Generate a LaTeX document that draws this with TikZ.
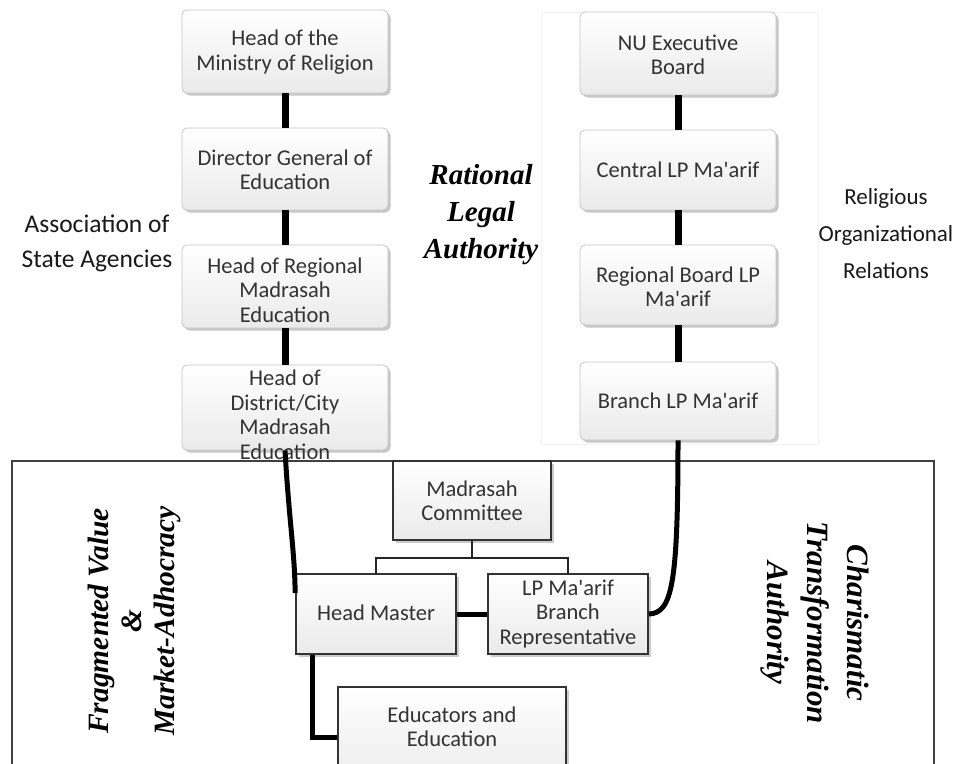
\documentclass[tikz,border=0pt]{standalone}
\usepackage{fontspec}
\setmainfont{Carlito}
\newfontfamily\serifbi{Liberation Serif}
\usetikzlibrary{shadows}
\newcommand{\sq}{\textquotesingle}
\begin{document}
\begin{tikzpicture}[x=1pt,y=-1pt,
  topbox/.style={rounded corners=5pt, draw=gray!45, line width=0.8pt, top color=white, bottom color=gray!16,
    drop shadow={shadow xshift=2.5pt, shadow yshift=-2.5pt, opacity=0.55, fill=gray!80}, inner sep=0pt},
  lowbox/.style={draw=black!80, line width=1.8pt, top color=white, bottom color=gray!16,
    drop shadow={shadow xshift=2.5pt, shadow yshift=-2.5pt, opacity=0.5, fill=gray!80}, inner sep=0pt},
  boxtext/.style={align=center, text=black!80, font=\fontsize{22.5}{24.5}\selectfont, inner sep=0pt},
  sidetext/.style={align=center, text=black!90, font=\fontsize{23}{37}\selectfont, inner sep=0pt},
  authtext/.style={align=center, font=\serifbi\bfseries\itshape\fontsize{29}{37}\selectfont, inner sep=0pt},
  thick link/.style={line width=7pt, black},
  thin link/.style={line width=1.4pt, black!85},
  mid link/.style={line width=5pt, black}]
\useasboundingbox (0,0) rectangle (958,763);
\clip (0,0) rectangle (958,763);
\fill[white] (0,0) rectangle (958,763);
% faint frame round the religious column
\draw[gray!10, line width=0.8pt] (541,12) rectangle (818,444);
% big lower frame
\draw[black!75, line width=1.5pt] (12,461) rectangle (934,800);
% left column
\node[topbox, minimum width=206pt, minimum height=83pt] (d1) at (285,51.5) {};
\node[topbox, minimum width=206pt, minimum height=82pt] (d2) at (285,169) {};
\node[topbox, minimum width=206pt, minimum height=83pt] (d3) at (285,286.5) {};
\node[topbox, minimum width=206pt, minimum height=85pt] (d4) at (285,407.5) {};
% right column
\node[topbox, minimum width=196pt, minimum height=83pt] (r1) at (678,53.5) {};
\node[topbox, minimum width=196pt, minimum height=80pt] (r2) at (678,170) {};
\node[topbox, minimum width=196pt, minimum height=80pt] (r3) at (678,285) {};
\node[topbox, minimum width=196pt, minimum height=78pt] (r4) at (678,401) {};
% connectors in columns
\draw[thick link] (d1.south) -- (d2.north);
\draw[thick link] (d2.south) -- (d3.north);
\draw[thick link] (d3.south) -- (d4.north);
\draw[thick link] (r1.south) -- (r2.north);
\draw[thick link] (r2.south) -- (r3.north);
\draw[thick link] (r3.south) -- (r4.north);
% lower boxes
\node[lowbox, minimum width=158pt, minimum height=79pt] (mc) at (472,500.5) {};
\node[lowbox, minimum width=160pt, minimum height=80pt] (hm) at (376,614) {};
\node[lowbox, minimum width=160pt, minimum height=80pt] (lp) at (568,614) {};
\node[lowbox, minimum width=228pt, minimum height=100pt] (ed) at (452,737) {};
% box texts
\node[boxtext] at (285,52) {Head of the\\Ministry of Religion};
\node[boxtext] at (285,170) {Director General of\\Education};
\node[boxtext] at (285,290) {Head of Regional\\Madrasah\\Education};
\node[boxtext] at (285,415) {Head of\\District/City\\Madrasah\\Education};
\node[boxtext] at (678,55) {NU Executive\\Board};
\node[boxtext] at (678,170) {Central LP Ma\sq arif};
\node[boxtext] at (678,287) {Regional Board LP\\Ma\sq arif};
\node[boxtext] at (678,401) {Branch LP Ma\sq arif};
\node[boxtext] at (472,501) {Madrasah\\Committee};
\node[boxtext] at (376,613) {Head Master};
\node[boxtext] at (568,614) {LP Ma\sq arif\\Branch\\Representative};
\node[boxtext] at (452,727) {Educators and\\Education};
% lower connectors
\draw[thin link] (mc.south) -- ++(0,17) -| (hm.north);
\draw[thin link] (mc.south) -- ++(0,17) -| (lp.north);
\draw[mid link] (hm.east) -- (lp.west);
\draw[mid link] ([xshift=-64pt]hm.south) |- (ed.west);
\draw[mid link] (d4.south) .. controls (289,520) and (295,555) .. ([yshift=21pt]hm.west);
\draw[mid link] (r4.south) .. controls (678,585) and (672,613) .. (lp.east);
% side labels
\node[sidetext, font=\fontsize{25.5}{35}\selectfont] at (97,243) {Association of\\State Agencies};
\node[sidetext] at (886,234) {Religious\\Organizational\\Relations};
\node[authtext] at (481,215) {Rational\\Legal\\Authority};
\node[authtext, rotate=90, font=\serifbi\bfseries\itshape\fontsize{29.5}{33}\selectfont] at (134,621) {Fragmented Value\\\&\\Market-Adhocracy};
\node[authtext, rotate=-90, font=\serifbi\bfseries\itshape\fontsize{31}{40}\selectfont] at (815,623) {Charismatic\\Transformation\\Authority};
\end{tikzpicture}
\end{document}
